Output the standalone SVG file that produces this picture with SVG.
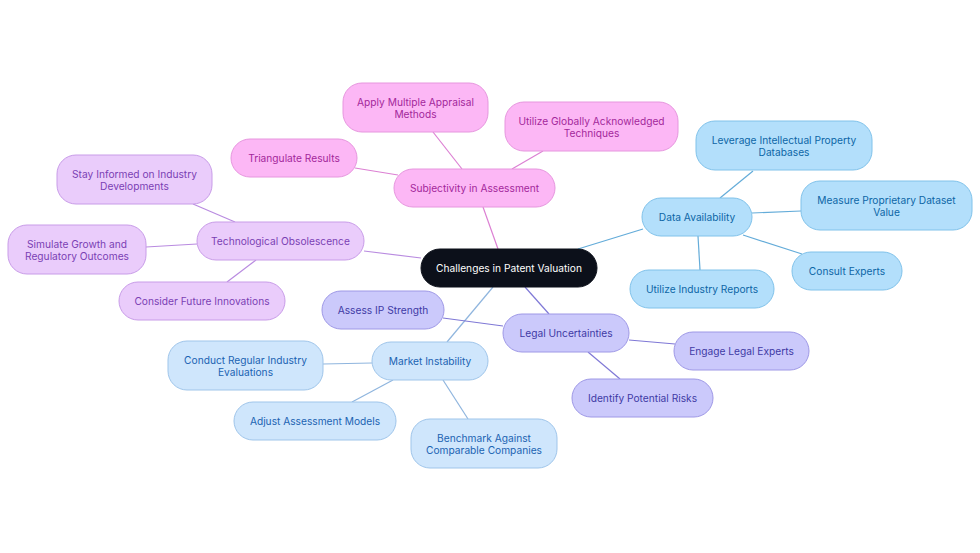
<svg xmlns="http://www.w3.org/2000/svg" width="980" height="553" viewBox="0 0 980 553">
<style>
text{font-family:Inter,"Noto Sans","Liberation Sans",sans-serif;font-size:10.2px;text-anchor:middle;dominant-baseline:central}
rect{stroke-width:1}
.pk rect{fill:#fcb7f5;stroke:#e696de}.pk text{fill:#a3279b}
.tc rect{fill:#eaccfb;stroke:#c89ce8}.tc text{fill:#7a3fb4}
.da rect{fill:#b3dffb;stroke:#80c2ea}.da text{fill:#0d66a6}
.mk rect{fill:#cfe6fc;stroke:#9fc5ea}.mk text{fill:#1b63b2}
.lg rect{fill:#cbc9fb;stroke:#9e98e6}.lg text{fill:#403aa5}
.rt rect{fill:#0c101a;stroke:#0c101a}.rt text{fill:#ffffff}
#connectors line{stroke-width:1.2;fill:none}
.cpk{stroke:#dc80d3}.ctc{stroke:#b98be0}.cda{stroke:#64acd9}.cmk{stroke:#8fb5de}.clg{stroke:#7f78d6}
</style>
<rect width="980" height="553" fill="#ffffff"/>
<g id="connectors">
<line class="cpk" x1="498" y1="249" x2="483" y2="207"/>
<line class="cda" x1="578" y1="249" x2="643" y2="229"/>
<line class="ctc" x1="421" y1="258" x2="364" y2="251"/>
<line class="clg" x1="525" y1="287" x2="549" y2="314"/>
<line class="cmk" x1="493" y1="287" x2="447" y2="342"/>
<line class="cpk" x1="433" y1="132" x2="462" y2="169"/>
<line class="cpk" x1="543" y1="151" x2="512" y2="169"/>
<line class="cpk" x1="355" y1="168" x2="398" y2="175"/>
<line class="ctc" x1="193" y1="204" x2="235" y2="222"/>
<line class="ctc" x1="146" y1="247" x2="197" y2="244"/>
<line class="ctc" x1="227" y1="282" x2="256" y2="260"/>
<line class="cda" x1="753" y1="171" x2="720" y2="198"/>
<line class="cda" x1="752" y1="213" x2="801" y2="211"/>
<line class="cda" x1="743" y1="235" x2="802" y2="254"/>
<line class="cda" x1="698" y1="236" x2="700" y2="270"/>
<line class="clg" x1="443" y1="318" x2="503" y2="326"/>
<line class="cmk" x1="323" y1="364" x2="372" y2="363"/>
<line class="cmk" x1="352" y1="402" x2="393" y2="380"/>
<line class="cmk" x1="443" y1="380" x2="468" y2="419"/>
<line class="clg" x1="629" y1="340" x2="675" y2="344"/>
<line class="clg" x1="588" y1="352" x2="620" y2="379"/>
</g>
<g id="root" class="rt"><rect x="421" y="249" width="176" height="38" rx="19"/><text x="509" y="268">Challenges in Patent Valuation</text></g>
<g id="subjectivity" class="pk"><rect x="394" y="169" width="161" height="38" rx="19"/><text x="474.5" y="188">Subjectivity in Assessment</text></g>
<g id="apply" class="pk"><rect x="343" y="83" width="145" height="49" rx="19"/><text x="415.5" y="101.5">Apply Multiple Appraisal</text><text x="415.5" y="113.5">Methods</text></g>
<g id="utilize-global" class="pk"><rect x="505" y="102" width="173" height="49" rx="19"/><text x="591.5" y="120.5">Utilize Globally Acknowledged</text><text x="591.5" y="132.5">Techniques</text></g>
<g id="triangulate" class="pk"><rect x="231" y="139" width="126" height="38" rx="19"/><text x="294" y="158">Triangulate Results</text></g>
<g id="tech" class="tc"><rect x="197" y="222" width="167" height="38" rx="19"/><text x="280.5" y="241">Technological Obsolescence</text></g>
<g id="stay" class="tc"><rect x="57" y="155" width="155" height="49" rx="19"/><text x="134.5" y="173.5">Stay Informed on Industry</text><text x="134.5" y="185.5">Developments</text></g>
<g id="simulate" class="tc"><rect x="8" y="225" width="138" height="49" rx="19"/><text x="77" y="243.5">Simulate Growth and</text><text x="77" y="255.5">Regulatory Outcomes</text></g>
<g id="consider" class="tc"><rect x="119" y="282" width="166" height="38" rx="19"/><text x="202" y="301">Consider Future Innovations</text></g>
<g id="data" class="da"><rect x="642" y="198" width="110" height="38" rx="19"/><text x="697" y="217">Data Availability</text></g>
<g id="leverage" class="da"><rect x="696" y="121" width="176" height="49" rx="19"/><text x="784" y="139.5">Leverage Intellectual Property</text><text x="784" y="151.5">Databases</text></g>
<g id="measure" class="da"><rect x="801" y="181" width="171" height="49" rx="19"/><text x="886.5" y="199.5">Measure Proprietary Dataset</text><text x="886.5" y="211.5">Value</text></g>
<g id="consult" class="da"><rect x="792" y="252" width="110" height="38" rx="19"/><text x="847" y="271">Consult Experts</text></g>
<g id="reports" class="da"><rect x="630" y="270" width="144" height="38" rx="19"/><text x="702" y="289">Utilize Industry Reports</text></g>
<g id="market" class="mk"><rect x="372" y="342" width="116" height="38" rx="19"/><text x="430" y="361">Market Instability</text></g>
<g id="conduct" class="mk"><rect x="168" y="341" width="155" height="49" rx="19"/><text x="245.5" y="359.5">Conduct Regular Industry</text><text x="245.5" y="371.5">Evaluations</text></g>
<g id="adjust" class="mk"><rect x="234" y="402" width="162" height="38" rx="19"/><text x="315" y="421">Adjust Assessment Models</text></g>
<g id="benchmark" class="mk"><rect x="411" y="419" width="146" height="49" rx="19"/><text x="484" y="437.5">Benchmark Against</text><text x="484" y="449.5">Comparable Companies</text></g>
<g id="legal" class="lg"><rect x="503" y="314" width="126" height="38" rx="19"/><text x="566" y="333">Legal Uncertainties</text></g>
<g id="assess" class="lg"><rect x="322" y="291" width="122" height="38" rx="19"/><text x="383" y="310">Assess IP Strength</text></g>
<g id="engage" class="lg"><rect x="674" y="332" width="135" height="38" rx="19"/><text x="741.5" y="351">Engage Legal Experts</text></g>
<g id="identify" class="lg"><rect x="572" y="379" width="141" height="38" rx="19"/><text x="642.5" y="398">Identify Potential Risks</text></g>
</svg>
